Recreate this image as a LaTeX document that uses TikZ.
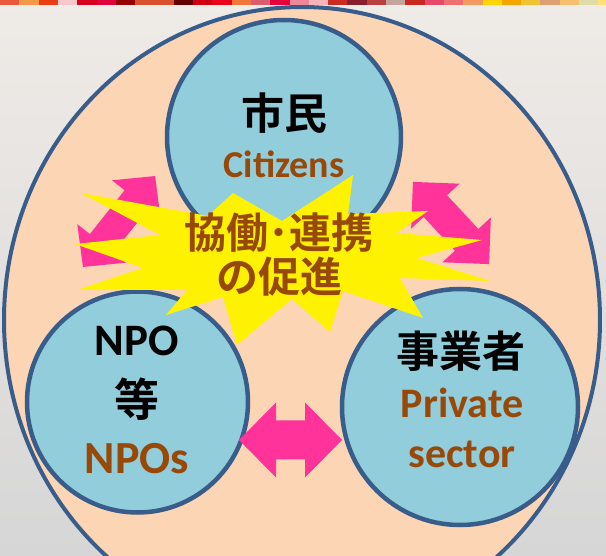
\documentclass[tikz,border=0pt]{standalone}
\usepackage{fontspec}
\setmainfont{Carlito}
\newfontfamily\jpfont{Noto Sans CJK JP}[BoldFont={Noto Sans CJK JP Bold}]
\usetikzlibrary{positioning}
\definecolor{paper}{HTML}{EFEBE7}
\definecolor{paperdark}{HTML}{D6D6D6}
\definecolor{peach}{HTML}{FCD5B5}
\definecolor{aqua}{HTML}{92CDDC}
\definecolor{rim}{HTML}{385D8A}
\definecolor{hotpink}{HTML}{FF3399}
\definecolor{rust}{HTML}{984807}
\newcommand{\jsize}[1]{\jpfont\bfseries\fontsize{#1}{#1}\selectfont}
\newcommand{\esize}[1]{\bfseries\fontsize{#1}{#1}\selectfont}
% double headed block arrow: centre, angle, half length, head length, head half width, shaft half width
\newcommand{\fatarrow}[6]{\fill[push, shift={#1}, rotate=#2] (-#3,0) -- (-#3+#4,#5) -- (-#3+#4,#6) -- (#3-#4,#6) -- (#3-#4,#5) -- (#3,0) -- (#3-#4,-#5) -- (#3-#4,-#6) -- (-#3+#4,-#6) -- (-#3+#4,-#5) -- cycle;}
\tikzstyle{actor} = [circle, fill=aqua, draw=rim, line width=4.5pt, inner sep=0pt]
\tikzstyle{jlabel} = [inner sep=0pt, text=black]
\tikzstyle{elabel} = [inner sep=0pt, text=rust]

\begin{document}
\begin{tikzpicture}[x=1pt, y=-1pt, field/.style={fill=peach, draw=rim, line width=4pt}, push/.style={fill=hotpink}, burst/.style={fill=yellow}]
\useasboundingbox (0,0) rectangle (606,556);
\clip (0,0) rectangle (606,556);

% Backdrop
\shade[top color=paper, bottom color=paperdark] (0,0) rectangle (606,556);
\foreach \c [count=\i from 0] in {E95A3A,F39A4A,EA3D12,F7C7CB,D4001E,E0003A,950000,D9502C,D9502C,660000,CC0011,E8001C,F07838,D95F70,E6003A,EE8899,F4B4BA,CC2B22,8B1E2E,B84040,C4A59A,C82820,E64A6A,EE7070,F29A60,FFD500,F5A500,F2C230,DDA070,F7C070,DFDCA8,FFE070}
  {\definecolor{band}{HTML}{\c}\fill[band] (\i*19.3,0) rectangle ++(19.3,5);}

% Outer field
\draw[field] (302,320) ellipse [x radius=298, y radius=313];

% Define nodes
\node[actor, minimum size=234pt]   (cit) at (284,137)   {};
\node[actor, minimum size=221pt]   (npo) at (137.5,402) {};
\node[actor, minimum size=236pt]   (pri) at (460,407)   {};

% Arrows
\fatarrow{(290.5,440)}{0}{51.5}{37}{37.5}{19.5}
\fatarrow{(119,221.5)}{51.6}{58}{30}{31}{15}
\fatarrow{(451,223)}{-47.2}{56}{33}{33}{16}

% Burst
\fill[burst] (81,193) -- (208,216) -- (233,193) -- (282,221) -- (353,175) -- (348,214)
  -- (428,211) -- (397,233) -- (482,240) -- (417,258) -- (490,281) -- (400,278)
  -- (423,318) -- (343,291) -- (330,332) -- (292,299) -- (237,345) -- (223,297)
  -- (166,315) -- (187,290) -- (77,290) -- (143,268) -- (75,244) -- (160,235) -- cycle;

% Labels
\node[jlabel, font=\jsize{43}]                  (citj) at (284,113) {市民};
\node[elabel, font=\esize{38}]                  (cite) at (284,164) {Citizens};
\node[jlabel, font=\esize{45}]                  (npoa) at (137,341) {NPO};
\node[jlabel, font=\jsize{45}]                  (npoj) at (137,399) {等};
\node[elabel, font=\esize{46}]                  (npoe) at (137,459) {NPOs};
\node[jlabel, font=\jsize{43}]                  (prij) at (461,351) {事業者};
\node[elabel, font=\esize{42}]                  (prie) at (462,403) {Private};
\node[elabel, font=\esize{42}]                  (pris) at (462,454) {sector};
\node[elabel, font=\jsize{42}, align=center]    (slogan) at (279,255) {協働･連携\\[2pt]の促進};
\end{tikzpicture}
\end{document}
